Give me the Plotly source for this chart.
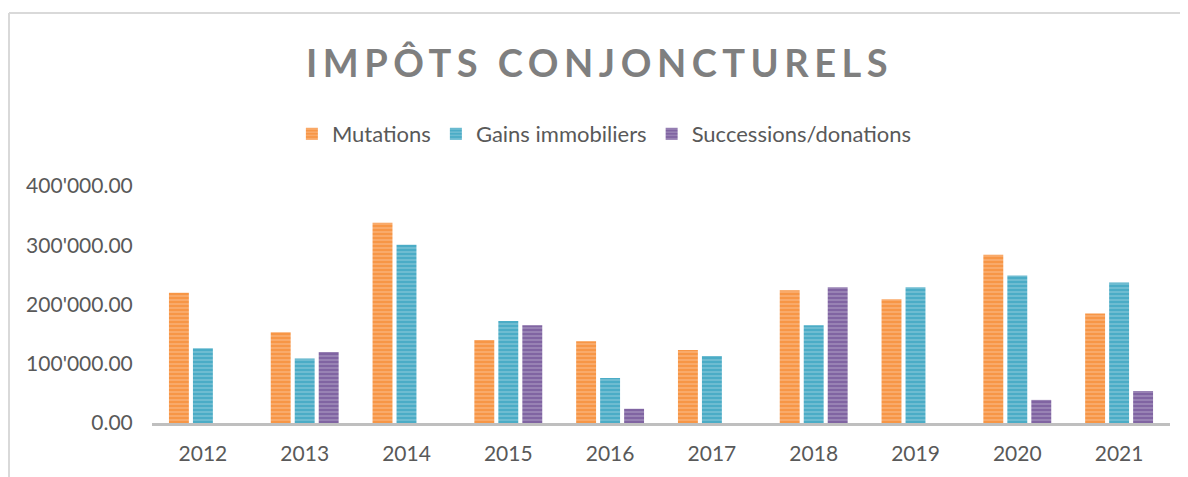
import plotly.graph_objects as go

# ------------------------------------------------------------
# Impôts conjoncturels 2012-2021
# ------------------------------------------------------------
years = ["2012", "2013", "2014", "2015", "2016", "2017", "2018", "2019", "2020", "2021"]

mutations = [220000, 153000, 338000, 140000, 138000, 123000, 224000, 209000, 284000, 185000]
gains_immobiliers = [126000, 109000, 301000, 172000, 76000, 113000, 165000, 229000, 249000, 237000]
successions = [None, 120000, None, 165000, 24000, None, 229000, None, 39000, 54000]

series_names = ["Mutations", "Gains immobiliers", "Successions/donations"]
series_colors = ["#F79646", "#4BACC6", "#8064A2"]

y_ticks = [0, 100000, 200000, 300000, 400000]

W, H = 1188, 477
# the page body has an 8px margin, so figure coords = page coords - 8
M_L, M_R, M_T, M_B = 144, 26, 178, 62
TEXT_GREY = "#595959"

fig = go.Figure()
for name, vals, col in zip(series_names, [mutations, gains_immobiliers, successions], series_colors):
    fig.add_trace(go.Bar(
        x=years,
        y=vals,
        name=name,
        marker=dict(
            color=col,
            line=dict(width=0),
            pattern=dict(shape="-", size=4, solidity=0.35,
                         fgcolor="rgba(255,255,255,0.55)", fillmode="overlay"),
        ),
    ))

# light frame around the chart (only top and left edges are visible)
pw = W - M_L - M_R
ph = H - M_T - M_B
fx0 = (1 - M_L) / pw
fy1 = (H - M_B - 5) / ph
fy0 = (H - M_B - H - 5) / ph
fx1 = (W + 5 - M_L) / pw
frame = dict(type="line", xref="paper", yref="paper",
             line=dict(color="#D9D9D9", width=2), layer="below")
fig.add_shape(**frame, x0=fx0, x1=fx0, y0=fy0, y1=fy1)
fig.add_shape(**frame, x0=fx0, x1=fx1, y0=fy1, y1=fy1)

fig.update_layout(
    width=W, height=H,
    margin=dict(l=M_L, r=M_R, t=M_T, b=M_B),
    plot_bgcolor="white",
    paper_bgcolor="white",
    separators=".'",
    barmode="group",
    bargap=0.293,
    bargroupgap=0.17,
    font=dict(family="Lato, sans-serif", size=21, color=TEXT_GREY),
    title=dict(
        text='<b><span style="letter-spacing:5.5px">IMPÔTS CONJONCTURELS</span></b>',
        font=dict(family="Lato, sans-serif", size=38, color="#7F7F7F"),
        x=0.498, xref="container", xanchor="center",
        y=1 - 56 / H, yref="container", yanchor="middle",
    ),
    legend=dict(
        orientation="h",
        x=0.502, xref="container", xanchor="center",
        y=1 - 126 / H, yref="container", yanchor="middle",
        font=dict(size=22, color=TEXT_GREY),
        itemwidth=30,
        traceorder="normal",
    ),
    xaxis=dict(
        showline=True, linecolor="#BFBFBF", linewidth=3,
        showgrid=False, ticks="outside", ticklen=10, tickcolor="rgba(0,0,0,0)",
    ),
    yaxis=dict(
        range=[0, 400000], tickvals=y_ticks, tickformat=",.2f",
        showgrid=False, zeroline=False, showline=False,
        ticks="outside", ticklen=14, tickcolor="rgba(0,0,0,0)",
    ),
)

fig.write_html("out.html")
